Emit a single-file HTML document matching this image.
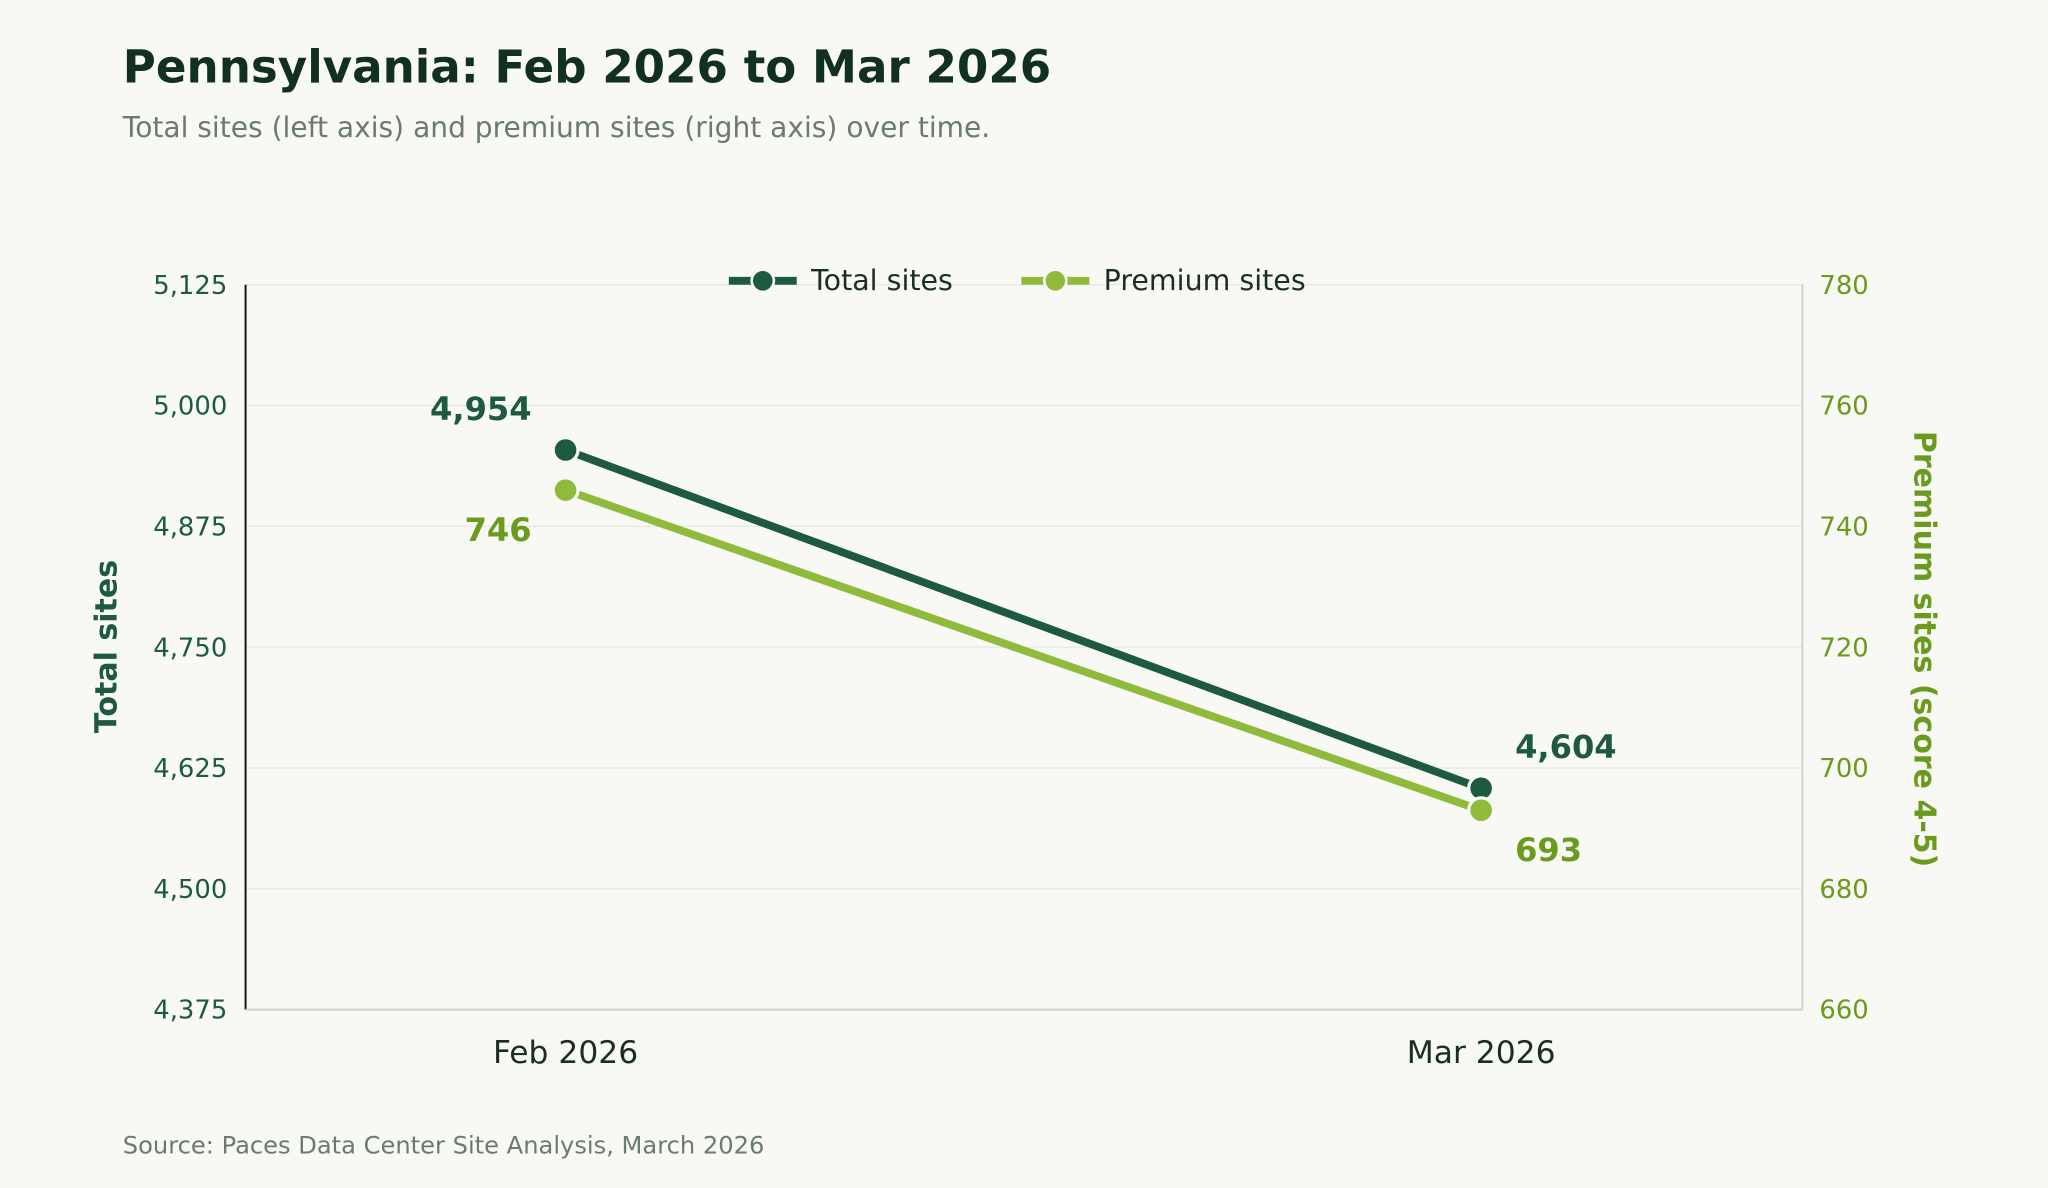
<!DOCTYPE html>
<html><head><meta charset="utf-8"><style>
html,body{margin:0;padding:0;background:#f8f9f4;}
svg{display:block;font-family:"DejaVu Sans","Liberation Sans",sans-serif;}
</style></head><body>
<svg id="chart" width="2048" height="1188" viewBox="0 0 1568 909.6" xmlns="http://www.w3.org/2000/svg">
<rect x="0" y="0" width="1568" height="910" fill="#f8f9f4"/>
<text x="94" y="63" font-size="34.6" font-weight="bold" fill="#11301f">Pennsylvania: Feb 2026 to Mar 2026</text>
<text x="94" y="105" font-size="21.5" fill="#6b7a72">Total sites (left axis) and premium sites (right axis) over time.</text>
<g id="grid"></g>
<g id="axes"></g>
<g id="series"></g>
<g id="legend">
  <g>
    <line x1="558" y1="215" x2="610" y2="215" stroke="#1e5a3e" stroke-width="6"/>
    <circle cx="584" cy="215" r="8.5" fill="#1e5a3e" stroke="#f8f9f4" stroke-width="2"/>
    <text x="621" y="222" font-size="21.8" fill="#1a2e25">Total sites</text>
  </g>
  <g>
    <line x1="782" y1="215" x2="834" y2="215" stroke="#8fba3c" stroke-width="6"/>
    <circle cx="808" cy="215" r="8.5" fill="#8fba3c" stroke="#f8f9f4" stroke-width="2"/>
    <text x="845" y="222" font-size="21.8" fill="#1a2e25">Premium sites</text>
  </g>
</g>
<text transform="translate(89,495) rotate(-90)" text-anchor="middle" font-size="23" font-weight="bold" fill="#1e5a3e">Total sites</text>
<text transform="translate(1466,497) rotate(90)" text-anchor="middle" font-size="23" font-weight="bold" fill="#6a9a1e">Premium sites (score 4-5)</text>
<text x="94" y="883" font-size="18.5" fill="#6b7a72">Source: Paces Data Center Site Analysis, March 2026</text>
</svg>
<script>
const categories = ["Feb 2026", "Mar 2026"];
const totalSites = [4954, 4604];
const premiumSites = [746, 693];
const leftTicks = [4375, 4500, 4625, 4750, 4875, 5000, 5125];
const rightTicks = [660, 680, 700, 720, 740, 760, 780];

const NS = "http://www.w3.org/2000/svg";
const L = 188, R = 1380, T = 218, B = 773;
const yL = v => B - (v - 4375) / 750 * (B - T);
const yR = v => B - (v - 660) / 120 * (B - T);
const xS = i => 433 + i * 701;
function mk(parent, tag, attrs, text) {
  const e = document.createElementNS(NS, tag);
  for (const k in attrs) e.setAttribute(k, attrs[k]);
  if (text !== undefined) e.textContent = text;
  document.getElementById(parent).appendChild(e);
  return e;
}
const fmt = v => v.toLocaleString("en-US");
leftTicks.forEach((t, i) => {
  const g = mk("grid", "line", {x1: L, x2: R, y1: yL(t), y2: yL(t), stroke: "#e6e8e2", "stroke-width": 1});
  
  
  const lt = mk("axes", "text", {x: 174, y: yL(t) + 7, "text-anchor": "end", "font-size": 19.8, fill: "#1e5a3e"}, fmt(t));
  
  
});
rightTicks.forEach(t => {
  const rt = mk("axes", "text", {x: 1393, y: yR(t) + 7, "font-size": 19.8, fill: "#6a9a1e"}, String(t));
  
  
});
let a = mk("axes", "line", {x1: L, x2: L, y1: T, y2: B, stroke: "#111", "stroke-width": 1.5});


a = mk("axes", "line", {x1: R, x2: R, y1: T, y2: B, stroke: "#cfd2cc", "stroke-width": 1.5});


a = mk("axes", "line", {x1: L, x2: R, y1: B, y2: B, stroke: "#cfd2cc", "stroke-width": 1.5});


categories.forEach((c, i) => {
  const xt = mk("axes", "text", {x: xS(i), y: 814, "text-anchor": "middle", "font-size": 24, fill: "#1a2e25"}, c);
  
  
});
function drawSeries(vals, yf, color, labelColor, dy, name) {
  const p = mk("series", "polyline", {points: vals.map((v, i) => xS(i) + "," + yf(v)).join(" "), fill: "none", stroke: color, "stroke-width": 6, "stroke-linecap": "round"});
  
  
  vals.forEach((v, i) => {
    const c = mk("series", "circle", {cx: xS(i), cy: yf(v), r: 9.5, fill: color, stroke: "#f8f9f4", "stroke-width": 2.5});
    
    
    const first = i === 0;
    const t = mk("series", "text", {x: first ? xS(i) - 26 : xS(i) + 26, y: yf(v) + dy, "text-anchor": first ? "end" : "start", "font-size": 24.6, "font-weight": "bold", fill: labelColor}, fmt(v));
    
    
  });
}
drawSeries(totalSites, yL, "#1e5a3e", "#1e5a3e", -23, "total-sites");
drawSeries(premiumSites, yR, "#8fba3c", "#6a9a1e", 39, "premium-sites");
</script>
</body></html>
